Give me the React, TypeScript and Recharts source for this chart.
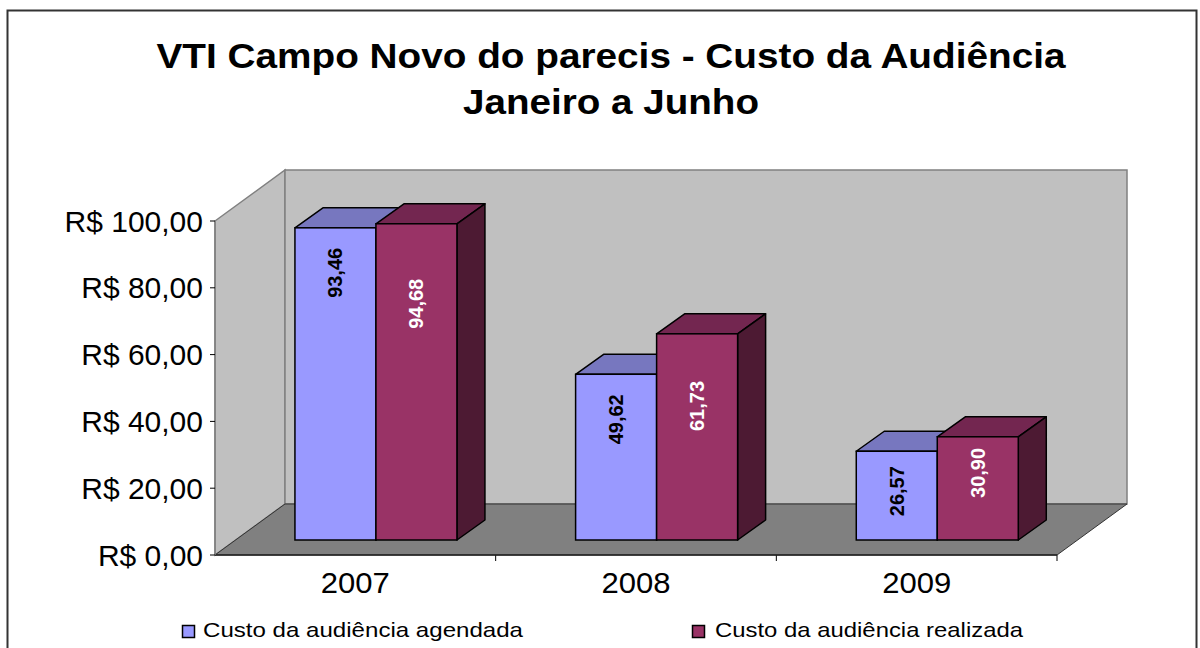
import { Bar, BarChart, ReferenceArea, XAxis, YAxis } from 'recharts';

const years = ['2007', '2008', '2009'];
const agendada = [93.46, 49.62, 26.57];
const realizada = [94.68, 61.73, 30.9];
const yTicks = [0, 20, 40, 60, 80, 100];

const FONT = '"Liberation Sans", Arial, sans-serif';

// profundidade das paredes e das barras (projeção oblíqua estilo Excel)
const WALL_DX = 70;
const WALL_DY = -51;
const BAR_SHIFT_X = 21;
const BAR_SHIFT_Y = -15;
const BAR_DX = 28;
const BAR_DY = -20;

const data = years.map((year, i) => ({
  year,
  agendada: agendada[i],
  realizada: realizada[i],
}));

const brl = (v: number) => `R$ ${v.toFixed(2).replace('.', ',')}`;
const dec = (v: number) => v.toFixed(2).replace('.', ',');

function Walls(props: any) {
  const { x, y, width, height } = props;
  const bottom = y + height;
  const right = x + width;
  const bx = x + WALL_DX;
  const by = y + WALL_DY;
  const bb = bottom + WALL_DY;
  const step = width / years.length;
  return (
    <g>
      <polygon
        points={`${x},${y} ${bx},${by} ${bx},${bb} ${x},${bottom}`}
        fill="#C0C0C0"
        stroke="#808080"
        strokeWidth={1.5}
      />
      <rect x={bx} y={by} width={width} height={height} fill="#C0C0C0" stroke="#808080" strokeWidth={1.5} />
      <polygon
        points={`${x},${bottom} ${bx},${bb} ${right + WALL_DX},${bb} ${right},${bottom}`}
        fill="#808080"
        stroke="#333"
        strokeWidth={1}
      />
      {years.map((_, i) => (
        <line key={i} x1={x + step * (i + 1)} y1={bottom} x2={x + step * (i + 1)} y2={bottom + 6} stroke="#000" />
      ))}
    </g>
  );
}

function makeBox(front: string, top: string, side: string, labelColor: string, offset: number, ratio: number) {
  return function Box(props: any) {
    const { x, y, width, height, value } = props;
    const fx = x + BAR_SHIFT_X;
    const fy = y + BAR_SHIFT_Y;
    const fb = fy + height;
    const fr = fx + width;
    const cx = fx + width / 2;
    const cy = fy + Math.min(offset, height * ratio);
    return (
      <g>
        <polygon
          points={`${fx},${fy} ${fx + BAR_DX},${fy + BAR_DY} ${fr + BAR_DX},${fy + BAR_DY} ${fr},${fy}`}
          fill={top}
          stroke="#000"
          strokeWidth={1.5}
          strokeLinejoin="round"
        />
        <polygon
          points={`${fr},${fy} ${fr + BAR_DX},${fy + BAR_DY} ${fr + BAR_DX},${fb + BAR_DY} ${fr},${fb}`}
          fill={side}
          stroke="#000"
          strokeWidth={1.5}
          strokeLinejoin="round"
        />
        <rect x={fx} y={fy} width={width} height={height} fill={front} stroke="#000" strokeWidth={1.5} />
        <text
          x={cx}
          y={cy}
          transform={`rotate(-90, ${cx}, ${cy})`}
          textAnchor="middle"
          dominantBaseline="central"
          fontFamily={FONT}
          fontWeight="bold"
          fontSize={20}
          textLength={50}
          lengthAdjust="spacingAndGlyphs"
          fill={labelColor}
        >
          {dec(value)}
        </text>
      </g>
    );
  };
}

const AgendadaBox = makeBox('#9999FF', '#7777BF', '#4D4D80', '#000', 45, 0.45);
const RealizadaBox = makeBox('#993366', '#732650', '#4D1A33', '#fff', 80, 0.35);

function YTick(props: any) {
  const { x, y, payload } = props;
  return (
    <text x={x} y={y} textAnchor="end" dominantBaseline="central" fontFamily={FONT} fontSize={30} fill="#000">
      {brl(payload.value)}
    </text>
  );
}

function XTick(props: any) {
  const { x, y, payload } = props;
  return (
    <text
      x={x}
      y={y + 21}
      textAnchor="middle"
      fontFamily={FONT}
      fontSize={30}
      textLength={69}
      lengthAdjust="spacingAndGlyphs"
      fill="#000"
    >
      {payload.value}
    </text>
  );
}

export default function App() {
  return (
    <div style={{ position: 'absolute', left: 0, top: 0, width: 1200, height: 648, background: '#fff' }}>
      <BarChart
        width={1200}
        height={648}
        data={data}
        margin={{ top: 221, right: 143, bottom: 0, left: 0 }}
        barCategoryGap="21%"
        barGap={0}
      >
        <ReferenceArea y1={0} y2={100} shape={<Walls />} zIndex={-10} />
        <XAxis
          dataKey="year"
          height={93}
          tickLine={false}
          tickSize={0}
          tickMargin={17}
          axisLine={{ stroke: '#222', strokeWidth: 1.5 }}
          tick={<XTick />}
        />
        <YAxis
          width={215}
          domain={[0, 100]}
          ticks={yTicks}
          interval={0}
          tickSize={5}
          tickMargin={7}
          tickLine={{ stroke: '#000' }}
          axisLine={{ stroke: '#808080', strokeWidth: 1.5 }}
          tick={<YTick />}
        />
        <Bar dataKey="agendada" shape={<AgendadaBox />} isAnimationActive={false} />
        <Bar dataKey="realizada" shape={<RealizadaBox />} isAnimationActive={false} />
      </BarChart>
      <svg
        width={1200}
        height={648}
        style={{ position: 'absolute', left: 0, top: 0, pointerEvents: 'none' }}
      >
        <rect x={7.5} y={10.5} width={1189} height={650} fill="none" stroke="#333" strokeWidth={2} />
        <text
          x={611}
          y={68}
          textAnchor="middle"
          fontFamily={FONT}
          fontWeight="bold"
          fontSize={35}
          textLength={909}
          lengthAdjust="spacingAndGlyphs"
        >
          VTI Campo Novo do parecis - Custo da Audiência
        </text>
        <text
          x={611}
          y={114}
          textAnchor="middle"
          fontFamily={FONT}
          fontWeight="bold"
          fontSize={35}
          textLength={296}
          lengthAdjust="spacingAndGlyphs"
        >
          Janeiro a Junho
        </text>
        <rect x={182.5} y={625.5} width={12} height={12} fill="#9999FF" stroke="#000" strokeWidth={1.5} />
        <text x={203} y={637} fontFamily={FONT} fontSize={21} textLength={320} lengthAdjust="spacingAndGlyphs">
          Custo da audiência agendada
        </text>
        <rect x={692.5} y={625.5} width={12} height={12} fill="#993366" stroke="#000" strokeWidth={1.5} />
        <text x={715} y={637} fontFamily={FONT} fontSize={21} textLength={308} lengthAdjust="spacingAndGlyphs">
          Custo da audiência realizada
        </text>
      </svg>
    </div>
  );
}
